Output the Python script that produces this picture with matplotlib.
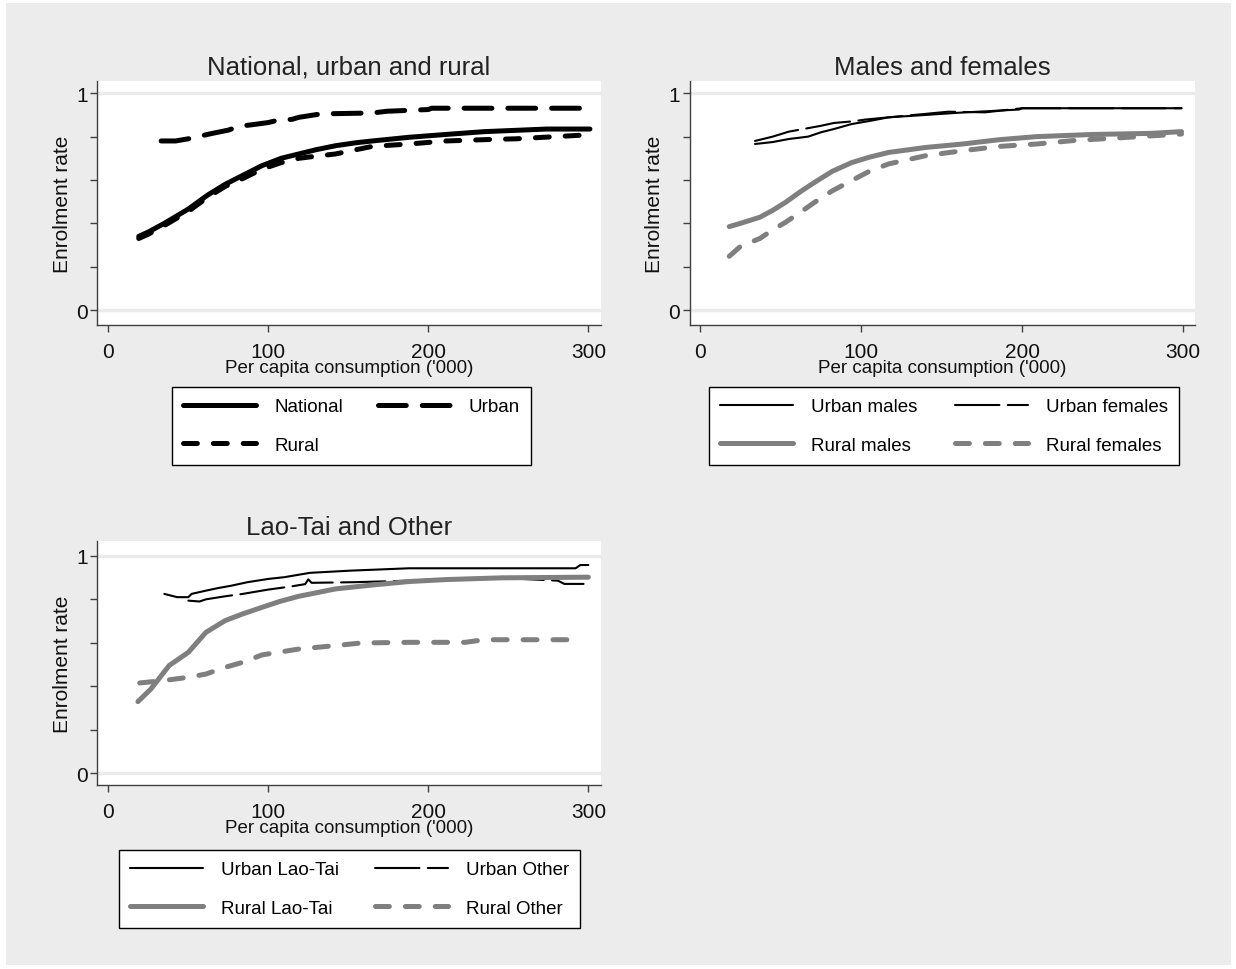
import matplotlib
matplotlib.use("Agg")
import matplotlib.pyplot as plt
from matplotlib.patches import Rectangle

plt.rcParams['font.family'] = ['Liberation Sans', 'DejaVu Sans']
plt.rcParams['lines.scale_dashes'] = False

# ---------------- data ----------------
# Panel 1: National, urban and rural
national_x = [19, 25, 35, 50, 62, 73, 85, 96, 108, 119, 130, 142, 155, 165, 188, 211, 235, 274, 301]
national_y = [0.34, 0.36, 0.40, 0.466, 0.53, 0.58, 0.625, 0.666, 0.70, 0.72, 0.74, 0.758, 0.772, 0.78, 0.797, 0.81, 0.823, 0.835, 0.835]
urban_x = [33, 42, 50, 54, 65, 75, 82, 90, 100, 105, 115, 119, 133, 165, 174, 200, 202, 296]
urban_y = [0.78, 0.78, 0.79, 0.797, 0.815, 0.83, 0.848, 0.855, 0.865, 0.874, 0.88, 0.889, 0.905, 0.909, 0.917, 0.925, 0.931, 0.931]
rural_x = [19, 25, 35, 50, 62, 73, 85, 96, 108, 119, 130, 142, 155, 165, 188, 211, 235, 255, 299]
rural_y = [0.33, 0.35, 0.39, 0.455, 0.52, 0.57, 0.61, 0.65, 0.68, 0.70, 0.71, 0.72, 0.74, 0.755, 0.766, 0.78, 0.786, 0.79, 0.808]

# Panel 2: Males and females
urban_m_x = [34, 45, 55, 67, 75, 83, 94, 105, 117, 140, 160, 198, 200, 299]
urban_m_y = [0.766, 0.775, 0.789, 0.80, 0.82, 0.835, 0.858, 0.872, 0.889, 0.90, 0.91, 0.925, 0.931, 0.931]
urban_f_x = [34, 45, 55, 64, 75, 83, 94, 103, 117, 140, 154, 177, 200, 299]
urban_f_y = [0.78, 0.80, 0.823, 0.835, 0.85, 0.863, 0.87, 0.879, 0.889, 0.905, 0.915, 0.912, 0.931, 0.931]
rural_m_x = [18, 25, 37, 45, 53, 62, 71, 82, 94, 105, 117, 140, 163, 186, 209, 244, 280, 299]
rural_m_y = [0.385, 0.40, 0.428, 0.46, 0.497, 0.545, 0.589, 0.64, 0.68, 0.705, 0.727, 0.75, 0.766, 0.786, 0.80, 0.81, 0.815, 0.823]
rural_f_x = [18, 25, 37, 45, 53, 62, 71, 82, 94, 105, 117, 140, 163, 186, 209, 232, 255, 299]
rural_f_y = [0.248, 0.294, 0.33, 0.37, 0.405, 0.45, 0.497, 0.55, 0.597, 0.64, 0.674, 0.712, 0.735, 0.755, 0.766, 0.782, 0.792, 0.812]

# Panel 3: Lao-Tai and Other
urban_lt_x = [35, 43, 50, 52, 61, 68, 77, 87, 100, 110, 126, 151, 188, 292, 295, 300]
urban_lt_y = [0.825, 0.81, 0.81, 0.825, 0.84, 0.851, 0.863, 0.879, 0.894, 0.902, 0.922, 0.932, 0.943, 0.943, 0.958, 0.958]
urban_o_x = [50, 57, 61, 73, 84, 100, 114, 123, 125, 127, 154, 188, 211, 258, 281, 285, 297]
urban_o_y = [0.794, 0.79, 0.80, 0.814, 0.825, 0.845, 0.859, 0.87, 0.892, 0.876, 0.879, 0.886, 0.894, 0.894, 0.886, 0.871, 0.871]
rural_lt_x = [18.5, 26.6, 38, 50, 61, 73, 84, 96, 107, 119, 142, 165, 188, 211, 246, 300]
rural_lt_y = [0.329, 0.387, 0.495, 0.556, 0.648, 0.702, 0.733, 0.763, 0.79, 0.814, 0.848, 0.866, 0.882, 0.891, 0.899, 0.902]
rural_o_x = [19.6, 33.5, 50, 61, 73, 84, 96, 119, 142, 158, 188, 223, 235, 296]
rural_o_y = [0.415, 0.425, 0.441, 0.456, 0.487, 0.51, 0.544, 0.571, 0.587, 0.599, 0.602, 0.602, 0.614, 0.614]

titles = ["National, urban and rural", "Males and females", "Lao-Tai and Other"]
x_ticks = [0, 100, 200, 300]
y_ticks = [0, 0.2, 0.4, 0.6, 0.8, 1.0]
y_ticklabels = ["0", "", "", "", "", "1"]
xlabel = "Per capita consumption ('000)"
ylabel = "Enrolment rate"

# ---------------- styles ----------------
BLACK = 'black'
GRAY = '#7f7f7f'
THICK = 3.6
THIN = 1.5
solid = dict(linestyle='-')
long_dash = dict(linestyle=(0, (20, 11.5)))
short_dash = dict(linestyle=(0, (10, 11.5)))
thin_long_dash = dict(linestyle=(0, (32, 6)))

W, H = 1236, 970
fig = plt.figure(figsize=(W / 100, H / 100), dpi=100)
fig.patch.set_facecolor('white')
fig.patches.append(Rectangle((6 / W, 1 - 966 / H), (1231 - 6) / W, (966 - 4) / H,
                             transform=fig.transFigure, facecolor='#ececec',
                             edgecolor='none', zorder=-10))


def make_axes(l, t, r, b, ylim):
    ax = fig.add_axes([l / W, 1 - b / H, (r - l) / W, (b - t) / H])
    ax.set_facecolor('white')
    for s in ['top', 'right']:
        ax.spines[s].set_visible(False)
    for s in ['left', 'bottom']:
        ax.spines[s].set_color('#404040')
        ax.spines[s].set_linewidth(1.0)
    ax.set_xlim(-6.9, 307.6)
    ax.set_ylim(*ylim)
    ax.set_xticks(x_ticks)
    ax.set_yticks(y_ticks)
    ax.set_yticklabels(y_ticklabels)
    ax.tick_params(axis='both', direction='out', length=5, width=1, color='#404040',
                   labelsize=15, pad=2, labelcolor='#111111')
    ax.tick_params(axis='x', pad=7)
    for yv in [0, 1]:
        ax.axhline(yv, color='#eaeaea', lw=2.5, zorder=0.5)
    ax.set_xlabel(xlabel, fontsize=13.5, labelpad=-1, color='#111111')
    ax.set_ylabel(ylabel, fontsize=15, labelpad=3, color='#111111')
    return ax


def plot_line(ax, x, y, color, lw, style, label):
    return ax.plot(x, y, color=color, lw=lw, solid_capstyle='round', dash_capstyle='round',
                   label=label, **style)[0]


def add_legend(ax, handles, l, t, r, b):
    # matplotlib fills legend columns first; reorder so that rows read left to right
    order = handles[0::2] + handles[1::2]
    leg = ax.legend(handles=order, loc='upper left',
                    bbox_to_anchor=(l / W, 1 - b / H, (r - l) / W, (b - t) / H),
                    bbox_transform=fig.transFigure, mode='expand', ncol=2,
                    fontsize=13.5, frameon=True, fancybox=False, shadow=False,
                    handlelength=3.9, handletextpad=0.95, borderpad=0.6,
                    labelspacing=1.13, columnspacing=1.5, borderaxespad=0)
    fr = leg.get_frame()
    fr.set_edgecolor('black')
    fr.set_linewidth(1.0)
    fr.set_facecolor('white')
    fr.set_alpha(1)
    return leg


# Panel 1
ax1 = make_axes(97.3, 81.7, 600.5, 326, (-0.069, 1.058))
h1 = [plot_line(ax1, national_x, national_y, BLACK, THICK, solid, 'National'),
      plot_line(ax1, urban_x, urban_y, BLACK, THICK, long_dash, 'Urban'),
      plot_line(ax1, rural_x, rural_y, BLACK, THICK, short_dash, 'Rural')]
ax1.set_title(titles[0], fontsize=18.5, pad=5, color='#222222')
add_legend(ax1, h1, 172, 388, 531, 464)

# Panel 2
ax2 = make_axes(690, 81.7, 1195, 326, (-0.069, 1.058))
ax2.set_xlim(-6.4, 307.4)
h2 = [plot_line(ax2, urban_m_x, urban_m_y, BLACK, THIN, solid, 'Urban males'),
      plot_line(ax2, urban_f_x, urban_f_y, BLACK, THIN, thin_long_dash, 'Urban females'),
      plot_line(ax2, rural_m_x, rural_m_y, GRAY, THICK, solid, 'Rural males'),
      plot_line(ax2, rural_f_x, rural_f_y, GRAY, THICK, short_dash, 'Rural females')]
ax2.set_title(titles[1], fontsize=18.5, pad=5, color='#222222')
add_legend(ax2, h2, 709, 388, 1179, 464)

# Panel 3
ax3 = make_axes(97.3, 541.7, 600.5, 786, (-0.055, 1.07))
h3 = [plot_line(ax3, urban_lt_x, urban_lt_y, BLACK, THIN, solid, 'Urban Lao-Tai'),
      plot_line(ax3, urban_o_x, urban_o_y, BLACK, THIN, thin_long_dash, 'Urban Other'),
      plot_line(ax3, rural_lt_x, rural_lt_y, GRAY, THICK, solid, 'Rural Lao-Tai'),
      plot_line(ax3, rural_o_x, rural_o_y, GRAY, THICK, short_dash, 'Rural Other')]
ax3.set_title(titles[2], fontsize=18.5, pad=5, color='#222222')
add_legend(ax3, h3, 119, 851, 580, 924)

fig.savefig('out.png', dpi=100, facecolor=fig.get_facecolor())
